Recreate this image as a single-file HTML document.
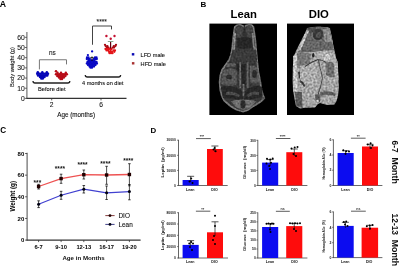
<!DOCTYPE html>
<html><head><meta charset="utf-8"><style>
html,body{margin:0;padding:0;background:#fff;overflow:hidden;}
svg{display:block;font-family:"Liberation Sans", sans-serif;will-change:transform;}
</style></head><body>
<svg width="400" height="266" viewBox="0 0 400 266" style='font-family:"Liberation Sans", sans-serif'>
<rect width="400" height="266" fill="#fff"/>
<text x="-0.2" y="7.1" font-size="8.7" text-anchor="start" font-weight="bold" fill="#000">A</text>
<line x1="26.9" y1="32" x2="26.9" y2="98.9" stroke="#666" stroke-width="1.1"/>
<line x1="26.4" y1="98.4" x2="126.5" y2="98.4" stroke="#333" stroke-width="1.2"/>
<line x1="24.9" y1="98.4" x2="26.9" y2="98.4" stroke="#444" stroke-width="0.8"/>
<text x="24.8" y="100.8" font-size="6.8" text-anchor="end" font-weight="normal" fill="#1a1a1a" stroke="#1a1a1a" stroke-width="0.1">0</text>
<line x1="24.9" y1="88.22" x2="26.9" y2="88.22" stroke="#444" stroke-width="0.8"/>
<text x="24.8" y="90.62" font-size="6.8" text-anchor="end" font-weight="normal" fill="#1a1a1a" stroke="#1a1a1a" stroke-width="0.1">10</text>
<line x1="24.9" y1="78.04" x2="26.9" y2="78.04" stroke="#444" stroke-width="0.8"/>
<text x="24.8" y="80.44" font-size="6.8" text-anchor="end" font-weight="normal" fill="#1a1a1a" stroke="#1a1a1a" stroke-width="0.1">20</text>
<line x1="24.9" y1="67.86000000000001" x2="26.9" y2="67.86000000000001" stroke="#444" stroke-width="0.8"/>
<text x="24.8" y="70.26" font-size="6.8" text-anchor="end" font-weight="normal" fill="#1a1a1a" stroke="#1a1a1a" stroke-width="0.1">30</text>
<line x1="24.9" y1="57.68000000000001" x2="26.9" y2="57.68000000000001" stroke="#444" stroke-width="0.8"/>
<text x="24.8" y="60.08" font-size="6.8" text-anchor="end" font-weight="normal" fill="#1a1a1a" stroke="#1a1a1a" stroke-width="0.1">40</text>
<line x1="24.9" y1="47.50000000000001" x2="26.9" y2="47.50000000000001" stroke="#444" stroke-width="0.8"/>
<text x="24.8" y="49.9" font-size="6.8" text-anchor="end" font-weight="normal" fill="#1a1a1a" stroke="#1a1a1a" stroke-width="0.1">50</text>
<line x1="24.9" y1="37.32000000000001" x2="26.9" y2="37.32000000000001" stroke="#444" stroke-width="0.8"/>
<text x="24.8" y="39.72" font-size="6.8" text-anchor="end" font-weight="normal" fill="#1a1a1a" stroke="#1a1a1a" stroke-width="0.1">60</text>
<line x1="51.7" y1="98.4" x2="51.7" y2="100.4" stroke="#333" stroke-width="0.8"/>
<text x="51.7" y="107.4" font-size="6.7" text-anchor="middle" font-weight="normal" fill="#1a1a1a" stroke="#1a1a1a" stroke-width="0.1">2</text>
<line x1="101" y1="98.4" x2="101" y2="100.4" stroke="#333" stroke-width="0.8"/>
<text x="101" y="107.4" font-size="6.7" text-anchor="middle" font-weight="normal" fill="#1a1a1a" stroke="#1a1a1a" stroke-width="0.1">6</text>
<text x="76.2" y="117.3" font-size="6.3" text-anchor="middle" font-weight="normal" fill="#111" stroke="#111" stroke-width="0.1">Age (months)</text>
<text x="13.7" y="67" font-size="5.75" text-anchor="middle" font-weight="normal" fill="#111" transform="rotate(-90 13.7 67)" stroke="#111" stroke-width="0.1">Body weight (g)</text>
<path d="M39.4 69.4 V59.75 H66.5 V64.4" fill="none" stroke="#777" stroke-width="1"/>
<text x="52.3" y="55.1" font-size="6.4" text-anchor="middle" font-weight="normal" fill="#222" stroke="#222" stroke-width="0.1">ns</text>
<path d="M92.5 44.75 V26 H111.5 V29.4" fill="none" stroke="#444" stroke-width="1"/>
<text x="101.7" y="23.6" font-size="6.6" text-anchor="middle" font-weight="normal" fill="#222" stroke="#222" stroke-width="0.1">****</text>
<path d="M33 81 Q33 83 35 83 H67.8 Q69.8 83 69.8 81" fill="none" stroke="#222" stroke-width="1.3"/>
<text x="51.8" y="91.1" font-size="5.7" text-anchor="middle" font-weight="normal" fill="#111" stroke="#111" stroke-width="0.1">Before diet</text>
<path d="M85.3 75 Q85.3 77 87.3 77 H118.6 Q120.6 77 120.6 75" fill="none" stroke="#222" stroke-width="1.3"/>
<text x="102.7" y="84.7" font-size="5.6" text-anchor="middle" font-weight="normal" fill="#111" stroke="#111" stroke-width="0.1">4 months on diet</text>
<circle cx="37.8" cy="72.2" r="1.25" fill="#0606b8"/>
<circle cx="42.3" cy="72.2" r="1.25" fill="#0606b8"/>
<circle cx="46.8" cy="72.2" r="1.25" fill="#0606b8"/>
<circle cx="37.2" cy="73.8" r="1.25" fill="#0606b8"/>
<circle cx="38.8" cy="73.8" r="1.25" fill="#0606b8"/>
<circle cx="40.4" cy="73.8" r="1.25" fill="#0606b8"/>
<circle cx="42" cy="73.8" r="1.25" fill="#0606b8"/>
<circle cx="43.6" cy="73.8" r="1.25" fill="#0606b8"/>
<circle cx="45.2" cy="73.8" r="1.25" fill="#0606b8"/>
<circle cx="46.8" cy="73.8" r="1.25" fill="#0606b8"/>
<circle cx="48" cy="73.8" r="1.25" fill="#0606b8"/>
<circle cx="38" cy="75.4" r="1.25" fill="#0606b8"/>
<circle cx="39.6" cy="75.4" r="1.25" fill="#0606b8"/>
<circle cx="41.2" cy="75.4" r="1.25" fill="#0606b8"/>
<circle cx="42.8" cy="75.4" r="1.25" fill="#0606b8"/>
<circle cx="44.4" cy="75.4" r="1.25" fill="#0606b8"/>
<circle cx="46" cy="75.4" r="1.25" fill="#0606b8"/>
<circle cx="47.3" cy="75.4" r="1.25" fill="#0606b8"/>
<circle cx="40" cy="77" r="1.25" fill="#0606b8"/>
<circle cx="41.5" cy="77" r="1.25" fill="#0606b8"/>
<circle cx="43" cy="77" r="1.25" fill="#0606b8"/>
<circle cx="44.5" cy="77" r="1.25" fill="#0606b8"/>
<circle cx="41.3" cy="78.6" r="1.25" fill="#0606b8"/>
<circle cx="42.8" cy="78.6" r="1.25" fill="#0606b8"/>
<circle cx="56" cy="71.2" r="1.25" fill="#b80c18"/>
<circle cx="57.5" cy="72.8" r="1.25" fill="#b80c18"/>
<circle cx="61" cy="72.8" r="1.25" fill="#b80c18"/>
<circle cx="65.8" cy="72.8" r="1.25" fill="#b80c18"/>
<circle cx="56" cy="74.3" r="1.25" fill="#b80c18"/>
<circle cx="57.6" cy="74.3" r="1.25" fill="#b80c18"/>
<circle cx="59.2" cy="74.3" r="1.25" fill="#b80c18"/>
<circle cx="60.8" cy="74.3" r="1.25" fill="#b80c18"/>
<circle cx="62.4" cy="74.3" r="1.25" fill="#b80c18"/>
<circle cx="64" cy="74.3" r="1.25" fill="#b80c18"/>
<circle cx="65.6" cy="74.3" r="1.25" fill="#b80c18"/>
<circle cx="66.8" cy="74.3" r="1.25" fill="#b80c18"/>
<circle cx="57.3" cy="75.9" r="1.25" fill="#b80c18"/>
<circle cx="58.9" cy="75.9" r="1.25" fill="#b80c18"/>
<circle cx="60.5" cy="75.9" r="1.25" fill="#b80c18"/>
<circle cx="62.1" cy="75.9" r="1.25" fill="#b80c18"/>
<circle cx="63.7" cy="75.9" r="1.25" fill="#b80c18"/>
<circle cx="65.3" cy="75.9" r="1.25" fill="#b80c18"/>
<circle cx="59" cy="77.4" r="1.25" fill="#b80c18"/>
<circle cx="60.6" cy="77.4" r="1.25" fill="#b80c18"/>
<circle cx="62.2" cy="77.4" r="1.25" fill="#b80c18"/>
<circle cx="63.8" cy="77.4" r="1.25" fill="#b80c18"/>
<circle cx="60.5" cy="78.9" r="1.25" fill="#b80c18"/>
<circle cx="62" cy="78.9" r="1.25" fill="#b80c18"/>
<circle cx="92.1" cy="51.4" r="1.15" fill="#0808c4"/>
<circle cx="87.9" cy="55.1" r="1.15" fill="#0808c4"/>
<circle cx="87" cy="57.5" r="1.15" fill="#0808c4"/>
<circle cx="88.5" cy="57.5" r="1.15" fill="#0808c4"/>
<circle cx="95" cy="57.5" r="1.15" fill="#0808c4"/>
<circle cx="96.5" cy="57.5" r="1.15" fill="#0808c4"/>
<circle cx="86.8" cy="59" r="1.15" fill="#0808c4"/>
<circle cx="88.3" cy="59" r="1.15" fill="#0808c4"/>
<circle cx="89.8" cy="59" r="1.15" fill="#0808c4"/>
<circle cx="94" cy="59" r="1.15" fill="#0808c4"/>
<circle cx="95.5" cy="59" r="1.15" fill="#0808c4"/>
<circle cx="96.8" cy="59" r="1.15" fill="#0808c4"/>
<circle cx="88.5" cy="60.5" r="1.15" fill="#0808c4"/>
<circle cx="90" cy="60.5" r="1.15" fill="#0808c4"/>
<circle cx="91.5" cy="60.5" r="1.15" fill="#0808c4"/>
<circle cx="93" cy="60.5" r="1.15" fill="#0808c4"/>
<circle cx="94.5" cy="60.5" r="1.15" fill="#0808c4"/>
<circle cx="87.5" cy="62" r="1.15" fill="#0808c4"/>
<circle cx="89" cy="62" r="1.15" fill="#0808c4"/>
<circle cx="90.5" cy="62" r="1.15" fill="#0808c4"/>
<circle cx="92" cy="62" r="1.15" fill="#0808c4"/>
<circle cx="93.5" cy="62" r="1.15" fill="#0808c4"/>
<circle cx="95" cy="62" r="1.15" fill="#0808c4"/>
<circle cx="96.5" cy="62" r="1.15" fill="#0808c4"/>
<circle cx="86.8" cy="63.5" r="1.15" fill="#0808c4"/>
<circle cx="88.3" cy="63.5" r="1.15" fill="#0808c4"/>
<circle cx="89.8" cy="63.5" r="1.15" fill="#0808c4"/>
<circle cx="91.3" cy="63.5" r="1.15" fill="#0808c4"/>
<circle cx="92.8" cy="63.5" r="1.15" fill="#0808c4"/>
<circle cx="94.3" cy="63.5" r="1.15" fill="#0808c4"/>
<circle cx="95.8" cy="63.5" r="1.15" fill="#0808c4"/>
<circle cx="97" cy="63.5" r="1.15" fill="#0808c4"/>
<circle cx="88" cy="65" r="1.15" fill="#0808c4"/>
<circle cx="89.5" cy="65" r="1.15" fill="#0808c4"/>
<circle cx="91" cy="65" r="1.15" fill="#0808c4"/>
<circle cx="92.5" cy="65" r="1.15" fill="#0808c4"/>
<circle cx="94" cy="65" r="1.15" fill="#0808c4"/>
<circle cx="95.5" cy="65" r="1.15" fill="#0808c4"/>
<circle cx="89.5" cy="66.5" r="1.15" fill="#0808c4"/>
<circle cx="91" cy="66.5" r="1.15" fill="#0808c4"/>
<circle cx="92.5" cy="66.5" r="1.15" fill="#0808c4"/>
<circle cx="94" cy="66.5" r="1.15" fill="#0808c4"/>
<circle cx="90.5" cy="67.7" r="1.15" fill="#0808c4"/>
<circle cx="92" cy="67.7" r="1.15" fill="#0808c4"/>
<circle cx="106.4" cy="36" r="1.2" fill="#c41232"/>
<circle cx="114.5" cy="36" r="1.2" fill="#c41232"/>
<circle cx="110.7" cy="38.8" r="1.2" fill="#c41232"/>
<circle cx="105" cy="44.8" r="1.15" fill="#a80a14"/>
<circle cx="116" cy="44.8" r="1.15" fill="#a80a14"/>
<circle cx="105.8" cy="46.2" r="1.15" fill="#a80a14"/>
<circle cx="107.4" cy="46.2" r="1.15" fill="#a80a14"/>
<circle cx="113.8" cy="46.2" r="1.15" fill="#a80a14"/>
<circle cx="115.3" cy="46.2" r="1.15" fill="#a80a14"/>
<circle cx="107" cy="47.6" r="1.15" fill="#a80a14"/>
<circle cx="108.5" cy="47.6" r="1.15" fill="#a80a14"/>
<circle cx="112.7" cy="47.6" r="1.15" fill="#a80a14"/>
<circle cx="114" cy="47.6" r="1.15" fill="#a80a14"/>
<circle cx="105.5" cy="49" r="1.15" fill="#e41418"/>
<circle cx="107" cy="49" r="1.15" fill="#e41418"/>
<circle cx="108.5" cy="49" r="1.15" fill="#e41418"/>
<circle cx="110" cy="49" r="1.15" fill="#e41418"/>
<circle cx="111.5" cy="49" r="1.15" fill="#e41418"/>
<circle cx="106.5" cy="50.4" r="1.15" fill="#e41418"/>
<circle cx="108" cy="50.4" r="1.15" fill="#e41418"/>
<circle cx="110.5" cy="50.4" r="1.15" fill="#e41418"/>
<circle cx="113.5" cy="50.4" r="1.15" fill="#e41418"/>
<circle cx="115" cy="50.4" r="1.15" fill="#e41418"/>
<circle cx="109" cy="51.8" r="1.15" fill="#e41418"/>
<circle cx="110.5" cy="51.8" r="1.15" fill="#e41418"/>
<circle cx="112" cy="51.8" r="1.15" fill="#e41418"/>
<circle cx="114.3" cy="51.8" r="1.15" fill="#e41418"/>
<circle cx="109.5" cy="53.2" r="1.15" fill="#e41418"/>
<circle cx="111" cy="53.2" r="1.15" fill="#e41418"/>
<circle cx="112.5" cy="53.2" r="1.15" fill="#e41418"/>
<path d="M107.8 41.5 H113.4" stroke="#7a9a80" stroke-width="0.9" fill="none"/>
<path d="M110.6 42 V48.5" stroke="#600010" stroke-width="1.2" fill="none"/>
<path d="M90.3 57.6 H93.6 M92 56.4 V61" stroke="#000" stroke-width="0.8" fill="none"/>
<rect x="131.8" y="53.1" width="2.5" height="2.4" fill="#0a0ab4"/>
<rect x="131.9" y="62.1" width="2.5" height="2.4" fill="#a83030"/>
<text x="140.6" y="56.9" font-size="5.6" text-anchor="start" font-weight="normal" fill="#111" stroke="#111" stroke-width="0.1">LFD male</text>
<text x="140.6" y="65.8" font-size="5.6" text-anchor="start" font-weight="normal" fill="#111" stroke="#111" stroke-width="0.1">HFD male</text>
<text x="200.5" y="6.8" font-size="8" text-anchor="start" font-weight="bold" fill="#000">B</text>
<text x="243.7" y="18" font-size="11.3" text-anchor="middle" font-weight="bold" fill="#000">Lean</text>
<text x="318.8" y="18" font-size="11.3" text-anchor="middle" font-weight="bold" fill="#000">DIO</text>
<rect x="209.4" y="23.6" width="67.6" height="91.4" fill="#000"/>
<rect x="287" y="23.6" width="67" height="91.4" fill="#000"/>
<defs><filter id="bl" x="-10%" y="-10%" width="120%" height="120%"><feGaussianBlur stdDeviation="0.7"/></filter><filter id="bl2" x="-10%" y="-10%" width="120%" height="120%"><feGaussianBlur stdDeviation="1.2"/></filter><filter id="tx1" x="205" y="20" width="80" height="100" filterUnits="userSpaceOnUse" color-interpolation-filters="sRGB"><feGaussianBlur in="SourceGraphic" stdDeviation="0.6" result="b"/><feTurbulence type="fractalNoise" baseFrequency="0.5" numOctaves="2" seed="4" result="n"/><feColorMatrix in="n" type="matrix" values="1 0 0 0 0 1 0 0 0 0 1 0 0 0 0 0 0 0 0 1" result="g"/><feComposite in="b" in2="g" operator="arithmetic" k1="0.9" k2="0.55" k3="0" k4="0" result="m"/><feGaussianBlur in="m" stdDeviation="0.35"/></filter><filter id="tx2" x="283" y="20" width="80" height="100" filterUnits="userSpaceOnUse" color-interpolation-filters="sRGB"><feGaussianBlur in="SourceGraphic" stdDeviation="0.6" result="b"/><feTurbulence type="fractalNoise" baseFrequency="0.5" numOctaves="2" seed="9" result="n"/><feColorMatrix in="n" type="matrix" values="1 0 0 0 0 1 0 0 0 0 1 0 0 0 0 0 0 0 0 1" result="g"/><feComposite in="b" in2="g" operator="arithmetic" k1="0.9" k2="0.55" k3="0" k4="0" result="m"/><feGaussianBlur in="m" stdDeviation="0.35"/></filter><clipPath id="c1"><rect x="209.4" y="23.6" width="67.6" height="91.4"/></clipPath><clipPath id="c2"><rect x="287" y="23.6" width="67" height="91.4"/></clipPath></defs>
<g clip-path="url(#c1)"><g filter="url(#tx1)">
<path d="M234.8 27 L237 25.2 L240 24.8 L243 26 L244.5 27 L246 25.6 L249 24.8 L251.5 25 L253.4 26.8 L254.2 32 L255.3 40 L256 48 L256.6 55 L257.3 62 L258.3 72 L260 80 L261.5 90 L263 95 L264.3 98 L262 100.5 L258 103.5 L252.3 106.8 L248 110 L243 111.7 L236 109.5 L231 106.5 L227.5 103.5 L224 100.5 L221.8 96 L220.3 90 L219.6 82 L220.2 76 L222 70 L225.5 65 L229 60 L231 55 L232 50 L233 40 L234 32 Z" fill="#383838" stroke="#747474" stroke-width="1.7"/>
<ellipse cx="239.3" cy="31.5" rx="3.8" ry="6.5" fill="#444444"/>
<ellipse cx="249.2" cy="31.5" rx="3.8" ry="6.5" fill="#444444"/>
<path d="M243.8 26 L245.2 26 L245.5 37 L243.5 37 Z" fill="#2a2a2a"/>
<path d="M237 39 Q245 35 252 39 L251.5 48 Q245 50 237.5 48 Z" fill="#262626"/>
<path d="M234.2 33 L236 33 L234.8 53 L233 53 Z" fill="#8c8c8c"/>
<path d="M251.8 33 L253.6 33 L255.6 55 L253.9 55 Z" fill="#7c7c7c"/>
<path d="M232.5 50 Q245 47 256.3 50 L257.2 62 Q245 60 229.5 62 Z" fill="#3a3a3a"/>
<path d="M222.5 71 Q229 66 236.5 70 Q238 78 236 85 Q228 87 221 84 Z" fill="#555"/>
<ellipse cx="229" cy="77" rx="3" ry="2.2" fill="#2c2c2c"/>
<path d="M227 64 Q232 62 236 64 L235 67 Q231 66 226 67 Z" fill="#5a5a5a"/>
<path d="M250 66 Q256 64 258.5 70 L259.5 82 Q255 85 250 82 Z" fill="#585858"/>
<ellipse cx="254.5" cy="74" rx="2.3" ry="4" fill="#2a2a2a"/>
<path d="M236.5 64 Q240 63 242.5 66 L242.5 72 Q239 73 236.5 70 Z" fill="#252525"/>
<path d="M239.2 62 L241 62 L241 88 L239.2 88 Z" fill="#626262"/>
<path d="M246.8 62 L248.6 62 L248.6 88 L246.8 88 Z" fill="#626262"/>
<path d="M242.2 64 L245.6 64 L245.6 88 L242.2 88 Z" fill="#262626"/>
<path d="M221 87 Q232 84 242 91 L243 100 Q233 99 223 98 Z" fill="#272727"/>
<path d="M262 87 Q254 84 245 91 L244 100 Q254 99 262.5 97 Z" fill="#272727"/>
<path d="M226 92 Q233 90 240 95 L239 97 Q232 94 226 95 Z" fill="#4a4a4a"/>
<path d="M259 92 Q252 90 247 95 L248 97 Q254 94 259 95 Z" fill="#4a4a4a"/>
<path d="M242.5 84 L244.5 84 L244.3 96 L242.7 96 Z" fill="#6a6a6a"/>
<path d="M231 101 Q243 98 256 101 L252 106.5 Q243 113 235 106.5 Z" fill="#6e6e6e"/>
<ellipse cx="243" cy="104.5" rx="2.6" ry="4.3" fill="#2a2a2a"/>
<path d="M262 95 L264.5 98 L262.5 101 Z" fill="#505050"/>
</g></g>
<g clip-path="url(#c2)"><g filter="url(#tx2)">
<path d="M308 28.6 L312 27 L316 28 L320 26.8 L324 27.6 L327 27 L329.5 28 L331.5 35 L333.3 45 L335.5 55 L337.5 65 L338.5 78 L338.8 88 L338 96 L336.5 101 L334.5 104.5 L327 105 L320 103 L317.5 104.5 L315 107.5 L305 107.8 L300 108.5 L296 106 L294.7 100 L293 90 L292.6 80 L292.8 68 L293.5 57 L296 51 L300 43 L304 35 Z" fill="#a4a4a4"/>
<path d="M307 28 Q318 25 330 28 L334 50 Q326 50 316 52 Q305 52 297.5 53 L301 44 Z" fill="#666666"/>
<path d="M308 28 L316 27 L316 31 L309 33 Z" fill="#4a4a4a"/>
<path d="M323 29 L329.5 28.5 L332.5 42 L325 42 Z" fill="#8c8c8c"/>
<path d="M306.5 30 L309 31 L300.5 50 L297.5 51 Z" fill="#b4b4b4"/>
<path d="M303 39 L305 40 L302 47 L300 46 Z" fill="#c8c8c8"/>
<path d="M293.2 56 L296.5 53 L297.5 90 L293.5 92 Z" fill="#c4c4c4"/>
<ellipse cx="318" cy="34.5" rx="5.2" ry="5.8" fill="#383838"/>
<ellipse cx="318.5" cy="35" rx="2.5" ry="3" fill="#505050"/>
<path d="M314 52 Q325 49 334.5 52 L335 62 Q325 63 316 61 Z" fill="#ababab"/>
<circle cx="327" cy="57.5" r="4" fill="#c6c6c6" stroke="#9a9a9a" stroke-width="0.8"/>
<path d="M297 53 Q304 51 311 54 L310 66 Q303 69 297.5 68 Z" fill="#767676"/>
<ellipse cx="313.2" cy="55.2" rx="1.1" ry="2.2" fill="#222"/>
<path d="M298 72 Q302 70 305.5 73 L305 80 Q301 81 299 78 Z" fill="#3a3a3a"/>
<path d="M300 66 L316 62 L317 84 L300 84 Z" fill="#acacac"/>
<path d="M305 66.5 Q311 62 318 59.5 Q323 60 327 63" fill="none" stroke="#3a3a3a" stroke-width="1.1"/>
<path d="M318.5 60 Q320 68 322.5 78 Q321 86 318 95" fill="none" stroke="#4a4a4a" stroke-width="1"/>
<path d="M325.5 62 Q332 61 334 64 L334.5 77 Q330 78 326 75 Z" fill="#6e6e6e"/>
<path d="M334.5 55 L337.8 62 L338.5 80 L335.5 80 Z" fill="#b2b2b2"/>
<path d="M295 92 L302 92 L302.5 108 L296 106 Z" fill="#585858"/>
<path d="M300 80 Q303 81 305.5 86 L304 87 Q302 83 299.5 82 Z" fill="#3a3a3a"/>
<path d="M315 95 Q318 93 320.5 96 L320 102 Q317 103 315.5 101 Z" fill="#585858"/>
<circle cx="317.5" cy="101" r="1.3" fill="#d0d0d0"/>
<path d="M320 92 Q328 90 335.5 93 L335 96 Q327 94 320.5 96 Z" fill="#5c5c5c"/>
</g></g>
<text x="0.2" y="133" font-size="8.2" text-anchor="start" font-weight="bold" fill="#000">C</text>
<line x1="27.1" y1="152.8" x2="27.1" y2="240.6" stroke="#5a5a5a" stroke-width="1.1"/>
<line x1="26.6" y1="240.1" x2="140.6" y2="240.1" stroke="#333" stroke-width="1.1"/>
<line x1="25.1" y1="240.1" x2="27.1" y2="240.1" stroke="#333" stroke-width="0.8"/>
<text x="24.3" y="242.2" font-size="6" text-anchor="end" font-weight="bold" fill="#000">0</text>
<line x1="25.1" y1="218.45" x2="27.1" y2="218.45" stroke="#333" stroke-width="0.8"/>
<text x="24.3" y="220.55" font-size="6" text-anchor="end" font-weight="bold" fill="#000">20</text>
<line x1="25.1" y1="196.8" x2="27.1" y2="196.8" stroke="#333" stroke-width="0.8"/>
<text x="24.3" y="198.9" font-size="6" text-anchor="end" font-weight="bold" fill="#000">40</text>
<line x1="25.1" y1="175.14999999999998" x2="27.1" y2="175.14999999999998" stroke="#333" stroke-width="0.8"/>
<text x="24.3" y="177.25" font-size="6" text-anchor="end" font-weight="bold" fill="#000">60</text>
<line x1="25.1" y1="153.5" x2="27.1" y2="153.5" stroke="#333" stroke-width="0.8"/>
<text x="24.3" y="155.6" font-size="6" text-anchor="end" font-weight="bold" fill="#000">80</text>
<line x1="38.6" y1="240.1" x2="38.6" y2="242.1" stroke="#333" stroke-width="0.8"/>
<text x="38.6" y="248.6" font-size="5.8" text-anchor="middle" font-weight="bold" fill="#000">6-7</text>
<line x1="61.1" y1="240.1" x2="61.1" y2="242.1" stroke="#333" stroke-width="0.8"/>
<text x="61.1" y="248.6" font-size="5.8" text-anchor="middle" font-weight="bold" fill="#000">9-10</text>
<line x1="83.8" y1="240.1" x2="83.8" y2="242.1" stroke="#333" stroke-width="0.8"/>
<text x="83.8" y="248.6" font-size="5.8" text-anchor="middle" font-weight="bold" fill="#000">12-13</text>
<line x1="106.6" y1="240.1" x2="106.6" y2="242.1" stroke="#333" stroke-width="0.8"/>
<text x="106.6" y="248.6" font-size="5.8" text-anchor="middle" font-weight="bold" fill="#000">16-17</text>
<line x1="129.4" y1="240.1" x2="129.4" y2="242.1" stroke="#333" stroke-width="0.8"/>
<text x="129.4" y="248.6" font-size="5.8" text-anchor="middle" font-weight="bold" fill="#000">19-20</text>
<text x="83.6" y="260.3" font-size="6.15" text-anchor="middle" font-weight="bold" fill="#111">Age in Months</text>
<text x="14.9" y="196.3" font-size="6.3" text-anchor="middle" font-weight="bold" fill="#000" transform="rotate(-90 14.9 196.3)">Weight (g)</text>
<polyline points="38.6,186.5 61.1,178.6 83.8,174.7 106.6,175.0 129.4,174.5" fill="none" stroke="#ee5252" stroke-width="1.3"/>
<polyline points="38.6,204.2 61.1,195.2 83.8,189.2 106.6,192.8 129.4,191.6" fill="none" stroke="#4040d0" stroke-width="1.2"/>
<path d="M37.300000000000004 184.3 H39.9 M38.6 184.3 V189.0 M37.300000000000004 189.0 H39.9" stroke="#000" stroke-width="0.7" fill="none"/>
<path d="M59.800000000000004 174.2 H62.4 M61.1 174.2 V183.3 M59.800000000000004 183.3 H62.4" stroke="#000" stroke-width="0.7" fill="none"/>
<path d="M82.5 170 H85.1 M83.8 170 V179 M82.5 179 H85.1" stroke="#000" stroke-width="0.7" fill="none"/>
<path d="M105.3 166.3 H107.89999999999999 M106.6 166.3 V184.3 M105.3 184.3 H107.89999999999999" stroke="#000" stroke-width="0.7" fill="none"/>
<path d="M128.1 163.7 H130.70000000000002 M129.4 163.7 V185.8 M128.1 185.8 H130.70000000000002" stroke="#000" stroke-width="0.7" fill="none"/>
<path d="M37.300000000000004 200.8 H39.9 M38.6 200.8 V207.6 M37.300000000000004 207.6 H39.9" stroke="#000" stroke-width="0.7" fill="none"/>
<path d="M59.800000000000004 191.3 H62.4 M61.1 191.3 V199.3 M59.800000000000004 199.3 H62.4" stroke="#000" stroke-width="0.7" fill="none"/>
<path d="M82.5 185.5 H85.1 M83.8 185.5 V193 M82.5 193 H85.1" stroke="#000" stroke-width="0.7" fill="none"/>
<path d="M105.3 186 H107.89999999999999 M106.6 186 V199.5 M105.3 199.5 H107.89999999999999" stroke="#000" stroke-width="0.7" fill="none"/>
<path d="M128.1 184.5 H130.70000000000002 M129.4 184.5 V199.8 M128.1 199.8 H130.70000000000002" stroke="#000" stroke-width="0.7" fill="none"/>
<rect x="36.9" y="184.8" width="3.4" height="3.4" fill="#200"/>
<rect x="59.4" y="176.9" width="3.4" height="3.4" fill="#200"/>
<rect x="82.1" y="173.0" width="3.4" height="3.4" fill="#200"/>
<rect x="104.89999999999999" y="173.3" width="3.4" height="3.4" fill="#200"/>
<rect x="127.7" y="172.8" width="3.4" height="3.4" fill="#200"/>
<circle cx="38.6" cy="204.2" r="1.5" fill="#001"/>
<circle cx="61.1" cy="195.2" r="1.5" fill="#001"/>
<circle cx="83.8" cy="189.2" r="1.5" fill="#001"/>
<circle cx="106.6" cy="192.8" r="1.5" fill="#001"/>
<circle cx="129.4" cy="191.6" r="1.5" fill="#001"/>
<text x="37.4" y="185.4" font-size="6.5" text-anchor="middle" font-weight="bold" fill="#111">***</text>
<text x="59.9" y="171.2" font-size="6.5" text-anchor="middle" font-weight="bold" fill="#111">****</text>
<text x="82.6" y="166.7" font-size="6.5" text-anchor="middle" font-weight="bold" fill="#111">****</text>
<text x="105.4" y="166.0" font-size="6.5" text-anchor="middle" font-weight="bold" fill="#111">****</text>
<text x="128.2" y="162.5" font-size="6.5" text-anchor="middle" font-weight="bold" fill="#111">****</text>
<line x1="105.3" y1="215.6" x2="114.6" y2="215.6" stroke="#7a2a2a" stroke-width="0.9"/>
<circle cx="110" cy="215.6" r="1.4" fill="#200"/>
<line x1="105.3" y1="224.4" x2="114.6" y2="224.4" stroke="#2a2a7a" stroke-width="0.9"/>
<circle cx="110" cy="224.4" r="1.4" fill="#001"/>
<text x="118.5" y="218.0" font-size="6.4" text-anchor="start" font-weight="normal" fill="#111" stroke="#111" stroke-width="0.1">DIO</text>
<text x="118.5" y="226.8" font-size="6.4" text-anchor="start" font-weight="normal" fill="#111" stroke="#111" stroke-width="0.1">Lean</text>
<text x="150.4" y="133" font-size="7.9" text-anchor="start" font-weight="bold" fill="#000">D</text>
<line x1="178.5" y1="139.8" x2="178.5" y2="185.8" stroke="#555" stroke-width="0.9"/>
<line x1="178.2" y1="185.5" x2="227.7" y2="185.5" stroke="#444" stroke-width="0.8"/>
<line x1="177.0" y1="140.2" x2="178.5" y2="140.2" stroke="#333" stroke-width="0.6"/>
<text x="175.9" y="141.4" font-size="3.4" text-anchor="end" font-weight="bold" fill="#222">30000</text>
<line x1="177.0" y1="155.3" x2="178.5" y2="155.3" stroke="#333" stroke-width="0.6"/>
<text x="175.9" y="156.5" font-size="3.4" text-anchor="end" font-weight="bold" fill="#222">20000</text>
<line x1="177.0" y1="170.4" x2="178.5" y2="170.4" stroke="#333" stroke-width="0.6"/>
<text x="175.9" y="171.6" font-size="3.4" text-anchor="end" font-weight="bold" fill="#222">10000</text>
<line x1="177.0" y1="185.5" x2="178.5" y2="185.5" stroke="#333" stroke-width="0.6"/>
<text x="175.9" y="186.7" font-size="3.4" text-anchor="end" font-weight="bold" fill="#222">0</text>
<rect x="182.6" y="180" width="16.099999999999994" height="5.5" fill="#0c0cf0"/>
<path d="M187.14999999999998 176.3 H194.14999999999998 M190.64999999999998 176.3 V182" stroke="#111" stroke-width="0.7" fill="none"/>
<circle cx="191.2" cy="178.5" r="1.0" fill="#000"/>
<circle cx="189.5" cy="181.5" r="1.0" fill="#000"/>
<circle cx="192.5" cy="183" r="1.0" fill="#000"/>
<rect x="207.0" y="149" width="15.800000000000011" height="36.5" fill="#fe0c0c"/>
<path d="M211.4 146 H218.4 M214.9 146 V152" stroke="#111" stroke-width="0.7" fill="none"/>
<circle cx="214.7" cy="147.9" r="1.0" fill="#000"/>
<circle cx="215.6" cy="151.3" r="1.0" fill="#000"/>
<circle cx="213.5" cy="149.5" r="1.0" fill="#000"/>
<line x1="196" y1="138.6" x2="210.8" y2="138.6" stroke="#333" stroke-width="0.8"/>
<text x="201.9" y="138.0" font-size="3.7" text-anchor="middle" font-weight="bold" fill="#222">***</text>
<text x="163.9" y="162.4" font-size="4.365" text-anchor="middle" font-weight="bold" fill="#1a1a1a" transform="rotate(-90 163.9 162.4)">Leptin&#160; (pg/ml)</text>
<text x="190.2" y="190.9" font-size="3.6" text-anchor="middle" font-weight="bold" fill="#111">Lean</text>
<text x="214.5" y="190.9" font-size="3.6" text-anchor="middle" font-weight="bold" fill="#111">DIO</text>
<line x1="257.8" y1="139.9" x2="257.8" y2="185.8" stroke="#555" stroke-width="0.9"/>
<line x1="257.5" y1="185.5" x2="307.4" y2="185.5" stroke="#444" stroke-width="0.8"/>
<line x1="256.3" y1="140.3" x2="257.8" y2="140.3" stroke="#333" stroke-width="0.6"/>
<text x="255.8" y="141.5" font-size="3.4" text-anchor="end" font-weight="bold" fill="#222">300</text>
<line x1="256.3" y1="155.4" x2="257.8" y2="155.4" stroke="#333" stroke-width="0.6"/>
<text x="255.8" y="156.6" font-size="3.4" text-anchor="end" font-weight="bold" fill="#222">200</text>
<line x1="256.3" y1="170.4" x2="257.8" y2="170.4" stroke="#333" stroke-width="0.6"/>
<text x="255.8" y="171.6" font-size="3.4" text-anchor="end" font-weight="bold" fill="#222">100</text>
<line x1="256.3" y1="185.5" x2="257.8" y2="185.5" stroke="#333" stroke-width="0.6"/>
<text x="255.8" y="186.7" font-size="3.4" text-anchor="end" font-weight="bold" fill="#222">0</text>
<rect x="262.1" y="162.6" width="16.099999999999966" height="22.900000000000006" fill="#0c0cf0"/>
<path d="M266.65 159.6 H273.65 M270.15 159.6 V166" stroke="#111" stroke-width="0.7" fill="none"/>
<circle cx="267" cy="158.8" r="1.0" fill="#000"/>
<circle cx="270.2" cy="159.4" r="1.0" fill="#000"/>
<circle cx="272.7" cy="158.4" r="1.0" fill="#000"/>
<circle cx="266.5" cy="163.5" r="1.0" fill="#000"/>
<circle cx="271" cy="162.8" r="1.0" fill="#000"/>
<circle cx="269.2" cy="166" r="1.0" fill="#000"/>
<circle cx="270" cy="169" r="1.0" fill="#000"/>
<rect x="286.3" y="152.2" width="16.0" height="33.30000000000001" fill="#fe0c0c"/>
<path d="M290.8 149 H297.8 M294.3 149 V156" stroke="#111" stroke-width="0.7" fill="none"/>
<circle cx="291.5" cy="148.5" r="1.0" fill="#000"/>
<circle cx="294.7" cy="147.5" r="1.0" fill="#000"/>
<circle cx="297.5" cy="147" r="1.0" fill="#000"/>
<circle cx="293.5" cy="154" r="1.0" fill="#000"/>
<circle cx="296" cy="156" r="1.0" fill="#000"/>
<line x1="275.9" y1="138.5" x2="290.4" y2="138.5" stroke="#333" stroke-width="0.8"/>
<text x="282.6" y="137.9" font-size="3.7" text-anchor="middle" font-weight="bold" fill="#222">****</text>
<text x="245.6" y="162.4" font-size="4.268" text-anchor="middle" font-weight="bold" fill="#1a1a1a" transform="rotate(-90 245.6 162.4)">Glucose&#160; (mg/dl)</text>
<text x="270" y="190.9" font-size="3.6" text-anchor="middle" font-weight="bold" fill="#111">Lean</text>
<text x="294.5" y="190.9" font-size="3.6" text-anchor="middle" font-weight="bold" fill="#111">DIO</text>
<line x1="333.4" y1="139.4" x2="333.4" y2="185.8" stroke="#555" stroke-width="0.9"/>
<line x1="333.09999999999997" y1="185.5" x2="382.4" y2="185.5" stroke="#444" stroke-width="0.8"/>
<line x1="331.9" y1="139.8" x2="333.4" y2="139.8" stroke="#333" stroke-width="0.6"/>
<text x="331.4" y="141.0" font-size="3.4" text-anchor="end" font-weight="bold" fill="#222">6</text>
<line x1="331.9" y1="155.0" x2="333.4" y2="155.0" stroke="#333" stroke-width="0.6"/>
<text x="331.4" y="156.2" font-size="3.4" text-anchor="end" font-weight="bold" fill="#222">4</text>
<line x1="331.9" y1="170.2" x2="333.4" y2="170.2" stroke="#333" stroke-width="0.6"/>
<text x="331.4" y="171.4" font-size="3.4" text-anchor="end" font-weight="bold" fill="#222">2</text>
<line x1="331.9" y1="185.5" x2="333.4" y2="185.5" stroke="#333" stroke-width="0.6"/>
<text x="331.4" y="186.7" font-size="3.4" text-anchor="end" font-weight="bold" fill="#222">0</text>
<rect x="337.6" y="153" width="16.099999999999966" height="32.5" fill="#0c0cf0"/>
<path d="M342.15 150.8 H349.15 M345.65 150.8 V155" stroke="#111" stroke-width="0.7" fill="none"/>
<circle cx="343.3" cy="150.2" r="1.0" fill="#000"/>
<circle cx="346.2" cy="151.2" r="1.0" fill="#000"/>
<circle cx="349" cy="151.5" r="1.0" fill="#000"/>
<circle cx="345.5" cy="153.8" r="1.0" fill="#000"/>
<rect x="362.0" y="146.5" width="16.0" height="39.0" fill="#fe0c0c"/>
<path d="M366.5 144.3 H373.5 M370.0 144.3 V149" stroke="#111" stroke-width="0.7" fill="none"/>
<circle cx="367.8" cy="144.6" r="1.0" fill="#000"/>
<circle cx="370.6" cy="143.3" r="1.0" fill="#000"/>
<circle cx="372.5" cy="145.5" r="1.0" fill="#000"/>
<circle cx="371" cy="148" r="1.0" fill="#000"/>
<line x1="350.9" y1="138.2" x2="365.6" y2="138.2" stroke="#333" stroke-width="0.8"/>
<text x="358.2" y="137.6" font-size="3.7" text-anchor="middle" font-weight="bold" fill="#222">**</text>
<text x="324.6" y="163.4" font-size="3.3465000000000003" text-anchor="middle" font-weight="bold" fill="#1a1a1a" transform="rotate(-90 324.6 163.4)">Hemoglobin A1c (%)</text>
<text x="345.5" y="190.9" font-size="3.6" text-anchor="middle" font-weight="bold" fill="#111">Lean</text>
<text x="370" y="190.9" font-size="3.6" text-anchor="middle" font-weight="bold" fill="#111">DIO</text>
<line x1="178.5" y1="212.3" x2="178.5" y2="258.3" stroke="#555" stroke-width="0.9"/>
<line x1="178.2" y1="258" x2="228" y2="258" stroke="#444" stroke-width="0.8"/>
<line x1="177.0" y1="212.7" x2="178.5" y2="212.7" stroke="#333" stroke-width="0.6"/>
<text x="175.9" y="213.9" font-size="3.4" text-anchor="end" font-weight="bold" fill="#222">80000</text>
<line x1="177.0" y1="224.0" x2="178.5" y2="224.0" stroke="#333" stroke-width="0.6"/>
<text x="175.9" y="225.2" font-size="3.4" text-anchor="end" font-weight="bold" fill="#222">60000</text>
<line x1="177.0" y1="235.3" x2="178.5" y2="235.3" stroke="#333" stroke-width="0.6"/>
<text x="175.9" y="236.5" font-size="3.4" text-anchor="end" font-weight="bold" fill="#222">40000</text>
<line x1="177.0" y1="246.6" x2="178.5" y2="246.6" stroke="#333" stroke-width="0.6"/>
<text x="175.9" y="247.8" font-size="3.4" text-anchor="end" font-weight="bold" fill="#222">20000</text>
<line x1="177.0" y1="258" x2="178.5" y2="258" stroke="#333" stroke-width="0.6"/>
<text x="175.9" y="259.2" font-size="3.4" text-anchor="end" font-weight="bold" fill="#222">0</text>
<rect x="182.6" y="244.9" width="16.099999999999994" height="13.099999999999994" fill="#0c0cf0"/>
<path d="M187.14999999999998 240.6 H194.14999999999998 M190.64999999999998 240.6 V246" stroke="#111" stroke-width="0.7" fill="none"/>
<circle cx="191.2" cy="242" r="1.0" fill="#000"/>
<circle cx="189.3" cy="243.6" r="1.0" fill="#000"/>
<circle cx="193" cy="243.4" r="1.0" fill="#000"/>
<circle cx="190" cy="247" r="1.0" fill="#000"/>
<circle cx="192" cy="250" r="1.0" fill="#000"/>
<rect x="207.0" y="232.3" width="16.0" height="25.69999999999999" fill="#fe0c0c"/>
<path d="M211.5 221.8 H218.5 M215.0 221.8 V236" stroke="#111" stroke-width="0.7" fill="none"/>
<circle cx="215" cy="215.8" r="1.0" fill="#000"/>
<circle cx="215" cy="226.1" r="1.0" fill="#000"/>
<circle cx="214" cy="236" r="1.0" fill="#000"/>
<circle cx="213" cy="240" r="1.0" fill="#000"/>
<circle cx="215" cy="244" r="1.0" fill="#000"/>
<line x1="195.9" y1="211.2" x2="210.3" y2="211.2" stroke="#333" stroke-width="0.8"/>
<text x="202.8" y="210.6" font-size="3.7" text-anchor="middle" font-weight="bold" fill="#222">**</text>
<text x="163.9" y="235.3" font-size="4.365" text-anchor="middle" font-weight="bold" fill="#1a1a1a" transform="rotate(-90 163.9 235.3)">Leptin&#160; (pg/ml)</text>
<text x="190.2" y="263.3" font-size="3.6" text-anchor="middle" font-weight="bold" fill="#111">Lean</text>
<text x="214.5" y="263.3" font-size="3.6" text-anchor="middle" font-weight="bold" fill="#111">DIO</text>
<line x1="257.8" y1="212.4" x2="257.8" y2="258.3" stroke="#555" stroke-width="0.9"/>
<line x1="257.5" y1="258" x2="307.4" y2="258" stroke="#444" stroke-width="0.8"/>
<line x1="256.3" y1="212.8" x2="257.8" y2="212.8" stroke="#333" stroke-width="0.6"/>
<text x="255.8" y="214.0" font-size="3.4" text-anchor="end" font-weight="bold" fill="#222">250</text>
<line x1="256.3" y1="221.9" x2="257.8" y2="221.9" stroke="#333" stroke-width="0.6"/>
<text x="255.8" y="223.1" font-size="3.4" text-anchor="end" font-weight="bold" fill="#222">200</text>
<line x1="256.3" y1="230.9" x2="257.8" y2="230.9" stroke="#333" stroke-width="0.6"/>
<text x="255.8" y="232.1" font-size="3.4" text-anchor="end" font-weight="bold" fill="#222">150</text>
<line x1="256.3" y1="240" x2="257.8" y2="240" stroke="#333" stroke-width="0.6"/>
<text x="255.8" y="241.2" font-size="3.4" text-anchor="end" font-weight="bold" fill="#222">100</text>
<line x1="256.3" y1="249" x2="257.8" y2="249" stroke="#333" stroke-width="0.6"/>
<text x="255.8" y="250.2" font-size="3.4" text-anchor="end" font-weight="bold" fill="#222">50</text>
<line x1="256.3" y1="258" x2="257.8" y2="258" stroke="#333" stroke-width="0.6"/>
<text x="255.8" y="259.2" font-size="3.4" text-anchor="end" font-weight="bold" fill="#222">0</text>
<rect x="262.1" y="227" width="16.099999999999966" height="31" fill="#0c0cf0"/>
<path d="M266.65 223.7 H273.65 M270.15 223.7 V229" stroke="#111" stroke-width="0.7" fill="none"/>
<circle cx="266.5" cy="223.7" r="1.0" fill="#000"/>
<circle cx="268.5" cy="223.5" r="1.0" fill="#000"/>
<circle cx="270.5" cy="223.9" r="1.0" fill="#000"/>
<circle cx="272" cy="223.4" r="1.0" fill="#000"/>
<circle cx="273.5" cy="223.8" r="1.0" fill="#000"/>
<circle cx="270" cy="229.5" r="1.0" fill="#000"/>
<circle cx="270.5" cy="232" r="1.0" fill="#000"/>
<rect x="286.2" y="226.1" width="16.100000000000023" height="31.900000000000006" fill="#fe0c0c"/>
<path d="M290.75 223.3 H297.75 M294.25 223.3 V228" stroke="#111" stroke-width="0.7" fill="none"/>
<circle cx="290" cy="223.3" r="1.0" fill="#000"/>
<circle cx="292.5" cy="223.6" r="1.0" fill="#000"/>
<circle cx="295" cy="223.2" r="1.0" fill="#000"/>
<circle cx="297.5" cy="223.5" r="1.0" fill="#000"/>
<circle cx="300" cy="223.2" r="1.0" fill="#000"/>
<circle cx="294" cy="229" r="1.0" fill="#000"/>
<circle cx="296" cy="231" r="1.0" fill="#000"/>
<line x1="275.9" y1="211.3" x2="289.8" y2="211.3" stroke="#333" stroke-width="0.8"/>
<text x="282.6" y="210.0" font-size="3.6" text-anchor="middle" font-weight="bold" fill="#333">ns</text>
<text x="245.6" y="234.4" font-size="4.268" text-anchor="middle" font-weight="bold" fill="#1a1a1a" transform="rotate(-90 245.6 234.4)">Glucose&#160; (mg/dl)</text>
<text x="270" y="263.3" font-size="3.6" text-anchor="middle" font-weight="bold" fill="#111">Lean</text>
<text x="294.5" y="263.3" font-size="3.6" text-anchor="middle" font-weight="bold" fill="#111">DIO</text>
<line x1="333.4" y1="211.5" x2="333.4" y2="257.90000000000003" stroke="#555" stroke-width="0.9"/>
<line x1="333.09999999999997" y1="257.6" x2="382.4" y2="257.6" stroke="#444" stroke-width="0.8"/>
<line x1="331.9" y1="211.9" x2="333.4" y2="211.9" stroke="#333" stroke-width="0.6"/>
<text x="331.4" y="213.1" font-size="3.4" text-anchor="end" font-weight="bold" fill="#222">6</text>
<line x1="331.9" y1="227.3" x2="333.4" y2="227.3" stroke="#333" stroke-width="0.6"/>
<text x="331.4" y="228.5" font-size="3.4" text-anchor="end" font-weight="bold" fill="#222">4</text>
<line x1="331.9" y1="242.7" x2="333.4" y2="242.7" stroke="#333" stroke-width="0.6"/>
<text x="331.4" y="243.9" font-size="3.4" text-anchor="end" font-weight="bold" fill="#222">2</text>
<line x1="331.9" y1="257.6" x2="333.4" y2="257.6" stroke="#333" stroke-width="0.6"/>
<text x="331.4" y="258.8" font-size="3.4" text-anchor="end" font-weight="bold" fill="#222">0</text>
<rect x="337.1" y="225.9" width="16.599999999999966" height="31.700000000000017" fill="#0c0cf0"/>
<path d="M341.9 222.3 H348.9 M345.4 222.3 V228" stroke="#111" stroke-width="0.7" fill="none"/>
<circle cx="343.9" cy="222.1" r="1.0" fill="#000"/>
<circle cx="346.2" cy="221.5" r="1.0" fill="#000"/>
<circle cx="345" cy="224.5" r="1.0" fill="#000"/>
<circle cx="347.5" cy="226" r="1.0" fill="#000"/>
<rect x="361.6" y="227.7" width="16.5" height="29.900000000000034" fill="#fe0c0c"/>
<path d="M366.35 225.3 H373.35 M369.85 225.3 V230" stroke="#111" stroke-width="0.7" fill="none"/>
<circle cx="366.8" cy="226.2" r="1.0" fill="#000"/>
<circle cx="369.7" cy="225.5" r="1.0" fill="#000"/>
<circle cx="372.5" cy="224.9" r="1.0" fill="#000"/>
<circle cx="370" cy="228.5" r="1.0" fill="#000"/>
<line x1="351" y1="211.2" x2="365.8" y2="211.2" stroke="#333" stroke-width="0.8"/>
<text x="358.4" y="209.9" font-size="3.6" text-anchor="middle" font-weight="bold" fill="#333">ns</text>
<text x="324.6" y="236.3" font-size="3.3465000000000003" text-anchor="middle" font-weight="bold" fill="#1a1a1a" transform="rotate(-90 324.6 236.3)">Hemoglobin A1c (%)</text>
<text x="345.2" y="262.7" font-size="3.6" text-anchor="middle" font-weight="bold" fill="#111">Lean</text>
<text x="369.2" y="262.7" font-size="3.6" text-anchor="middle" font-weight="bold" fill="#111">DIO</text>
<text x="392.4" y="140.6" font-size="8.4" text-anchor="start" font-weight="bold" fill="#111" transform="rotate(90 392.4 140.6)">6-7</text>
<text x="392.4" y="157.4" font-size="8.8" text-anchor="start" font-weight="bold" fill="#111" transform="rotate(90 392.4 157.4)">Month</text>
<text x="392.2" y="213.6" font-size="8.4" text-anchor="start" font-weight="bold" fill="#111" transform="rotate(90 392.2 213.6)">12-13</text>
<text x="392.2" y="239.8" font-size="8.8" text-anchor="start" font-weight="bold" fill="#111" transform="rotate(90 392.2 239.8)">Month</text>
</svg>
</body></html>
